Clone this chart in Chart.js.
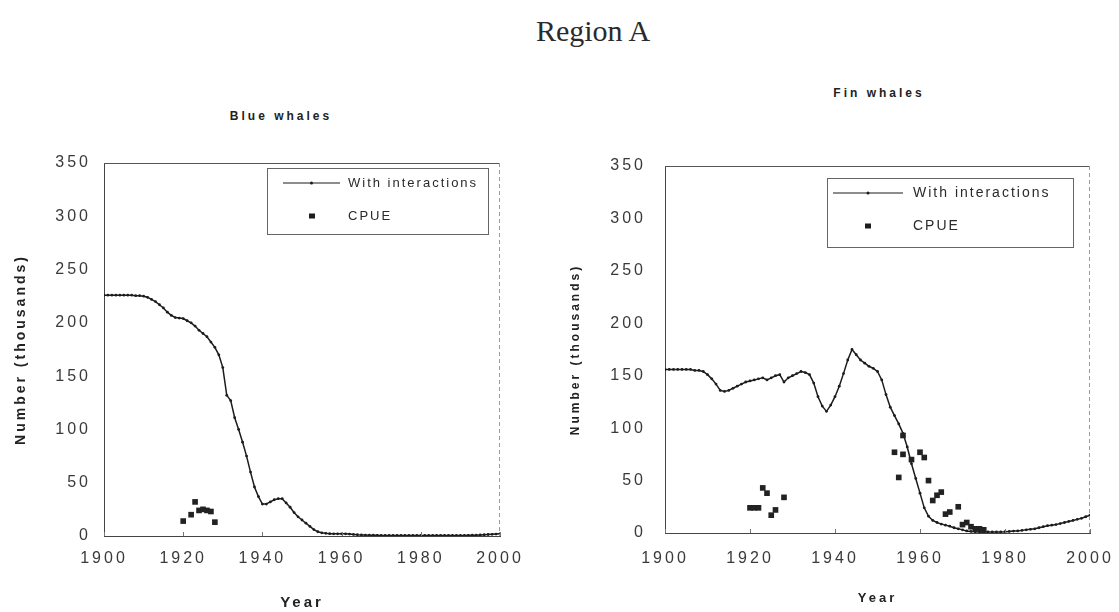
<!DOCTYPE html>
<html><head><meta charset="utf-8">
<script src="https://cdn.jsdelivr.net/npm/chart.js@4.4.1/dist/chart.umd.min.js"></script>
<style>
html,body{margin:0;padding:0;background:#fff;width:1119px;height:612px;overflow:hidden;}
body{position:relative;font-family:"Liberation Sans",Arial,sans-serif;}
canvas{position:absolute;}
.ttl{position:absolute;white-space:nowrap;transform:translate(-50%,-50%);color:#2a2a2a;}
#regionTitle{left:593px;top:31px;font-family:"Liberation Serif","Times New Roman",serif;font-size:30px;}
.sub{font-size:12px;letter-spacing:3px;color:#222;font-weight:bold;}
</style></head>
<body>
<div id="regionTitle" class="ttl">Region A</div>
<div class="ttl sub" style="left:281px;top:116px;">Blue whales</div>
<div class="ttl sub" style="left:879px;top:93px;">Fin whales</div>
<canvas id="blue" width="540" height="512" style="left:0;top:100px;"></canvas>
<canvas id="fin" width="574" height="512" style="left:545px;top:100px;"></canvas>
<script>
// ---------- data ----------
const modelYears = [
 1900,1901,1902,1903,1904,1905,1906,1907,1908,1909,
 1910,1911,1912,1913,1914,1915,1916,1917,1918,1919,
 1920,1921,1922,1923,1924,1925,1926,1927,1928,1929,
 1930,1931,1932,1933,1934,1935,1936,1937,1938,1939,
 1940,1941,1942,1943,1944,1945,1946,1947,1948,1949,
 1950,1951,1952,1953,1954,1955,1956,1957,1958,1959,
 1960,1961,1962,1963,1964,1965,1966,1967,1968,1969,
 1970,1971,1972,1973,1974,1975,1976,1977,1978,1979,
 1980,1981,1982,1983,1984,1985,1986,1987,1988,1989,
 1990,1991,1992,1993,1994,1995,1996,1997,1998,1999,
 2000];
const blueInteractions = [
 226,226,226,226,226,226,226,226,225.5,225.5,
 225,224,222,220,217,214,210,207,205,204.5,
 204,202,200,197,193,190,187,182,177,170,
 158,132,127,111,100,88,75,60,46,37,
 30,30,32,34,35,35,31,27,22,18,
 15,12,9,6,4,3,2.5,2.2,2,2,
 2,2,1.8,1.5,1.2,1,0.9,0.8,0.7,0.6,
 0.5,0.5,0.5,0.5,0.5,0.5,0.5,0.5,0.5,0.5,
 0.5,0.5,0.5,0.5,0.5,0.5,0.5,0.5,0.5,0.5,
 0.5,0.5,0.6,0.7,0.8,1,1.2,1.4,1.6,1.8,
 2];
const finInteractions = [
 156,156,156,156,156,156,156,155,155,154,
 151,147,142,136,135,136,138,140,142,144,
 145,146,147,148,146,148,150,151,144,148,
 150,152,154,153,151,143,130,121,116,122,
 130,140,152,165,175,170,165,162,159,157,
 154,146,132,120,112,104,95,82,66,52,
 38,24,16,12,10,8.5,7.5,6.5,5,4,
 3,2,1.5,1.2,1,1,1,1,1,1,
 1.2,1.5,1.8,2,2.5,3,3.5,4,5,6,
 7,7.5,8,9,10,11,12,13,14,15.5,
 17];
const blueCpueYears = [1920,1922,1923,1924,1925,1926,1927,1928];
const blueCpue      = [14,20,32,24,25,24,23,13];
const finCpueYears = [1920,1921,1922,1923,1924,1925,1926,1928,
  1954,1955,1956,1956,1958,1960,1961,1962,1963,1964,1965,1966,1967,1969,1970,1971,1972,1973,1974,1975];
const finCpue      = [24,24,24,43,38,17,22,34,
  77,53,75,93,70,77,72,50,31,36,39,18,20,25,8,10,6,4,4,3];
const xTickLabels = ['1900','1920','1940','1960','1980','2000'];
const xTickValues = [1900,1920,1940,1960,1980,2000];
const yTickLabels = ['0','50','100','150','200','250','300','350'];
const yTickValues = [0,50,100,150,200,250,300,350];
const seriesNames = ['With interactions','CPUE'];

// ---------- helpers ----------
const pts = (xs, ys) => xs.map((x, i) => ({x: x, y: ys[i]}));
const INK = '#1c1c1c';

const decorPlugin = {
  id: 'decor',
  beforeDraw(chart) {
    chart.ctx.letterSpacing = chart.options.plugins.decor.spacing;
  },
  afterDraw(chart) {
    const o = chart.options.plugins.decor;
    const ctx = chart.ctx, a = chart.chartArea;
    ctx.save();
    ctx.letterSpacing = '0px';
    // frame: top solid, right dashed
    ctx.strokeStyle = '#555'; ctx.lineWidth = 1;
    ctx.beginPath(); ctx.moveTo(a.left, a.top + 0.5); ctx.lineTo(a.right, a.top + 0.5); ctx.stroke();
    ctx.strokeStyle = '#9a9a9a'; ctx.setLineDash([4, 3]);
    ctx.beginPath(); ctx.moveTo(a.right - 0.5, a.top); ctx.lineTo(a.right - 0.5, a.bottom); ctx.stroke();
    ctx.setLineDash([]);
    // small inner tick marks on x axis
    const xs = chart.scales.x;
    ctx.strokeStyle = '#777';
    xTickValues.forEach(v => {
      const px = Math.round(xs.getPixelForValue(v)) + 0.5;
      ctx.beginPath(); ctx.moveTo(px, a.bottom - 4); ctx.lineTo(px, a.bottom); ctx.stroke();
    });
    // legend
    const L = o.legend;
    ctx.strokeStyle = '#666'; ctx.lineWidth = 1;
    ctx.strokeRect(a.left + L.box[0] + 0.5, a.top + L.box[1] + 0.5, L.box[2] - L.box[0], L.box[3] - L.box[1]);
    ctx.strokeStyle = INK; ctx.lineWidth = 1.2;
    ctx.beginPath(); ctx.moveTo(a.left + L.line[0], a.top + L.rowY[0]); ctx.lineTo(a.left + L.line[1], a.top + L.rowY[0]); ctx.stroke();
    ctx.fillStyle = INK;
    ctx.beginPath(); ctx.arc(a.left + (L.line[0] + L.line[1]) / 2, a.top + L.rowY[0], 1.5, 0, Math.PI * 2); ctx.fill();
    ctx.fillRect(a.left + L.markerX - 3, a.top + L.rowY[1] - 2.5, 6, 5);
    ctx.font = L.fontSize + 'px "Liberation Sans", Arial, sans-serif';
    ctx.letterSpacing = L.spacing;
    ctx.fillStyle = '#2a2a2a';
    ctx.textBaseline = 'middle'; ctx.textAlign = 'left';
    ctx.fillText(chart.data.datasets[0].label, a.left + L.textX, a.top + L.rowY[0]);
    ctx.fillText(chart.data.datasets[1].label, a.left + L.textX, a.top + L.rowY[1]);
    ctx.restore();
  }
};

function makeChart(id, lineVals, cpueX, cpueY, g) {
  return new Chart(document.getElementById(id), {
    type: 'scatter',
    data: {
      datasets: [
        { label: seriesNames[0], data: pts(modelYears, lineVals), showLine: true,
          borderColor: INK, borderWidth: 1.5, pointRadius: 1.4, pointBorderWidth: 0,
          pointBackgroundColor: INK, tension: 0, order: 2 },
        { label: seriesNames[1], data: pts(cpueX, cpueY), showLine: false,
          pointStyle: 'rect', pointRadius: 4, pointBorderWidth: 0,
          pointBackgroundColor: '#222', order: 1 }
      ]
    },
    options: {
      responsive: false, animation: false, devicePixelRatio: 1,
      layout: { padding: { top: g.padTop, right: g.padRight, left: 0, bottom: 0 } },
      plugins: {
        legend: { display: false }, tooltip: { enabled: false },
        decor: { spacing: g.spacing, legend: g.legend }
      },
      scales: {
        x: {
          type: 'linear', min: 1900, max: 2000,
          afterBuildTicks: s => { s.ticks = xTickValues.map(v => ({value: v})); },
          afterFit: s => { s.height = g.xAxisH; s.paddingLeft = 0; s.paddingRight = 0; },
          grid: { display: false, drawTicks: false },
          border: { display: true, color: '#444', width: 1 },
          ticks: { padding: g.xTickPad, color: '#3a3a3a', maxRotation: 0, autoSkip: false,
                   font: { family: '"Liberation Sans", Arial, sans-serif', size: 16 },
                   callback: (v, i) => xTickLabels[i] },
          title: { display: true, text: 'Year', color: '#222',
                   padding: { top: 0, bottom: g.xTitlePadB },
                   font: { family: '"Liberation Sans", Arial, sans-serif', size: g.xTitleSize, weight: 'bold' } }
        },
        y: {
          type: 'linear', min: 0, max: 350,
          afterBuildTicks: s => { s.ticks = yTickValues.map(v => ({value: v})); },
          afterFit: s => { s.width = g.yAxisW; s.paddingTop = 0; s.paddingBottom = 0; },
          grid: { display: false, drawTicks: false },
          border: { display: true, color: '#444', width: 1 },
          ticks: { padding: g.yTickPad, color: '#3a3a3a', autoSkip: false,
                   font: { family: '"Liberation Sans", Arial, sans-serif', size: 16 },
                   callback: (v, i) => yTickLabels[i] },
          title: { display: true, text: 'Number (thousands)', color: '#222',
                   padding: { top: g.yTitlePadT, bottom: 0 },
                   font: { family: '"Liberation Sans", Arial, sans-serif', size: g.yTitleSize, weight: 'bold' } }
        }
      }
    },
    plugins: [decorPlugin]
  });
}

makeChart('blue', blueInteractions, blueCpueYears, blueCpue, {
  padTop: 63, padRight: 40, yAxisW: 104, xAxisH: 76, spacing: '3px',
  xTickPad: 13, yTickPad: 13, xTitlePadB: 0, yTitlePadT: 13, xTitleSize: 15, yTitleSize: 14,
  legend: { box: [163, 5, 384, 71], line: [179, 236], rowY: [20, 53], markerX: 208, textX: 244,
            fontSize: 13, spacing: '2px' }
});
makeChart('fin', finInteractions, finCpueYears, finCpue, {
  padTop: 66, padRight: 29, yAxisW: 120, xAxisH: 79, spacing: '3px',
  xTickPad: 16, yTickPad: 19, xTitlePadB: 6, yTitlePadT: 23, xTitleSize: 13, yTitleSize: 12,
  legend: { box: [162, 12, 408, 81], line: [168, 238], rowY: [27, 60], markerX: 203, textX: 248,
            fontSize: 14, spacing: '2px' }
});
</script>
</body></html>
